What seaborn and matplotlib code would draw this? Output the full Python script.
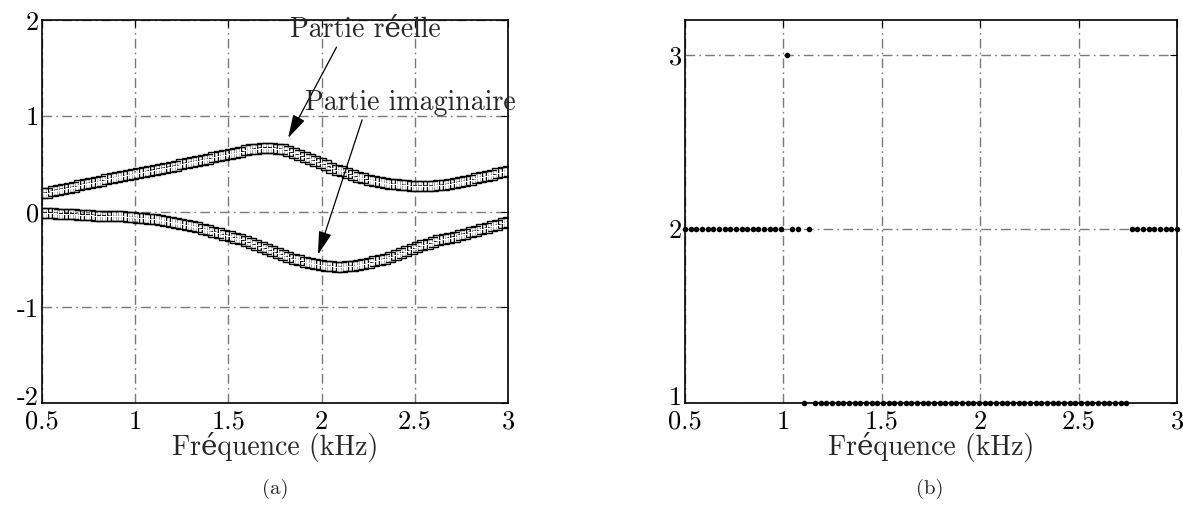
import numpy as np
import pandas as pd
import matplotlib
matplotlib.use("Agg")
import matplotlib.pyplot as plt
import matplotlib.transforms as mtransforms
import seaborn as sns

# Frequency grid (kHz): 88 equally spaced samples between 0.5 and 3 kHz
freq = np.linspace(0.5, 3.0, 88)

# Real part of the response
real_part = [
    0.19, 0.20, 0.22, 0.23, 0.24, 0.25, 0.26, 0.28, 0.29, 0.30,
    0.31, 0.32, 0.34, 0.35, 0.36, 0.37, 0.38, 0.39, 0.40, 0.41,
    0.43, 0.44, 0.45, 0.46, 0.47, 0.48, 0.50, 0.51, 0.52, 0.53,
    0.54, 0.55, 0.57, 0.58, 0.59, 0.60, 0.61, 0.62, 0.64, 0.65,
    0.66, 0.67, 0.67, 0.67, 0.66, 0.65, 0.63, 0.61, 0.59, 0.57,
    0.55, 0.53, 0.51, 0.49, 0.46, 0.44, 0.42, 0.40, 0.38, 0.36,
    0.35, 0.33, 0.32, 0.31, 0.30, 0.29, 0.285, 0.28, 0.275, 0.27,
    0.27, 0.27, 0.27, 0.27, 0.275, 0.28, 0.29, 0.30, 0.31, 0.32,
    0.33, 0.35, 0.36, 0.37, 0.38, 0.40, 0.41, 0.42,
]

# Imaginary part of the response
imag_part = [
    -0.01, -0.01, -0.01, -0.02, -0.02, -0.02, -0.02, -0.03, -0.03, -0.03,
    -0.04, -0.04, -0.04, -0.05, -0.05, -0.05, -0.06, -0.06, -0.07, -0.07,
    -0.08, -0.08, -0.09, -0.10, -0.11, -0.12, -0.13, -0.14, -0.15, -0.16,
    -0.18, -0.19, -0.21, -0.22, -0.24, -0.25, -0.27, -0.29, -0.31, -0.33,
    -0.35, -0.37, -0.39, -0.41, -0.43, -0.45, -0.47, -0.49, -0.51, -0.53,
    -0.54, -0.55, -0.56, -0.57, -0.57, -0.58, -0.58, -0.57, -0.57, -0.56,
    -0.55, -0.54, -0.52, -0.51, -0.49, -0.47, -0.45, -0.43, -0.41, -0.39,
    -0.37, -0.35, -0.34, -0.32, -0.30, -0.29, -0.27, -0.26, -0.24, -0.23,
    -0.21, -0.20, -0.18, -0.17, -0.15, -0.14, -0.12, -0.11,
]

# Selected index at each frequency
selected = (
    [2] * 18 + [3] + [2, 2] + [1] + [2] + [1] * 56 + [2] * 9
)

x_ticks = [0.5, 1, 1.5, 2, 2.5, 3]
x_tick_labels = ["0.5", "1", "1.5", "2", "2.5", "3"]
left_y_ticks = [-2, -1, 0, 1, 2]
left_y_tick_labels = ["-2", "-1", "0", "1", "2"]
right_y_ticks = [1, 2, 3]
right_y_tick_labels = ["1", "2", "3"]

sns.set_style("white")
plt.rcParams["font.family"] = ["cmr10", "DejaVu Serif"]
plt.rcParams["mathtext.fontset"] = "cm"
plt.rcParams["axes.unicode_minus"] = False

df = pd.DataFrame({"f": freq, "re": real_part, "im": imag_part, "sel": selected})

fig = plt.figure(figsize=(11.83, 5.07), dpi=100)
ax1 = fig.add_axes([0.0355, 0.205, 0.394, 0.755])
ax2 = fig.add_axes([0.579, 0.205, 0.416, 0.755])

grid_kw = dict(color="#7a7a7a", linestyle=(0, (7, 3, 1.2, 3)), linewidth=1.0)
tick_fs = 19
xlabel = "Fr\u00e9quence (kHz)"

# Left panel: real and imaginary parts
for col in ["re", "im"]:
    sns.lineplot(data=df, x="f", y=col, ax=ax1, color="black", linewidth=0.9,
                 marker="s", markersize=6.5, markerfacecolor="none",
                 markeredgecolor="black", markeredgewidth=1.0)
    sns.lineplot(data=df, x="f", y=col, ax=ax1, color="black", linestyle="",
                 marker="+", markersize=6.0, markeredgewidth=0.8)

ax1.set_xlim(0.5, 3)
ax1.set_ylim(-2, 2)
ax1.set_xticks(x_ticks)
ax1.set_xticklabels(x_tick_labels)
ax1.set_yticks(left_y_ticks)
ax1.set_yticklabels(left_y_tick_labels)
ax1.grid(True, **grid_kw)

arrow_kw = dict(arrowstyle="-|>,head_length=0.9,head_width=0.25", color="black",
                lw=0.9, mutation_scale=16, shrinkA=0, shrinkB=0)
ax1.text(2.233, 1.895, "Partie r\u00e9elle", fontsize=20, ha="center", va="center")
ax1.annotate("", xy=(1.82, 0.77), xytext=(2.08, 1.72), arrowprops=arrow_kw)
ax1.text(2.474, 1.14, "Partie imaginaire", fontsize=20, ha="center", va="center")
ax1.annotate("", xy=(1.98, -0.45), xytext=(2.217, 0.96), arrowprops=arrow_kw)

# Right panel: selected index
sns.scatterplot(data=df, x="f", y="sel", ax=ax2, color="black", s=16,
                edgecolor="black", linewidth=0, zorder=3, clip_on=False)
ax2.set_xlim(0.5, 3)
ax2.set_ylim(1, 3.2)
ax2.set_xticks(x_ticks)
ax2.set_xticklabels(x_tick_labels)
ax2.set_yticks(right_y_ticks)
ax2.set_yticklabels(right_y_tick_labels)
ax2.grid(True, **grid_kw)

for ax in (ax1, ax2):
    ax.set_xlabel(xlabel, fontsize=20, labelpad=-1)
    ax.set_ylabel("")
    ax.tick_params(direction="in", length=5, width=0.8, labelsize=tick_fs,
                   pad=2, top=True, right=True, colors="black")
    ax.tick_params(axis="x", pad=5)
    for sp in ax.spines.values():
        sp.set_visible(True)
        sp.set_color("black")
        sp.set_linewidth(1.2)
    ax.set_axisbelow(True)
    # lift the lowest y label a little so it clears the first x label
    lowest = ax.get_yticklabels()[0]
    lowest.set_transform(lowest.get_transform() +
                         mtransforms.ScaledTranslation(0, 5 / 72, fig.dpi_scale_trans))

fig.text(0.2325, 0.035, "(a)", fontsize=15, ha="center", va="center")
fig.text(0.786, 0.035, "(b)", fontsize=15, ha="center", va="center")

fig.savefig("out.png", dpi=100)
